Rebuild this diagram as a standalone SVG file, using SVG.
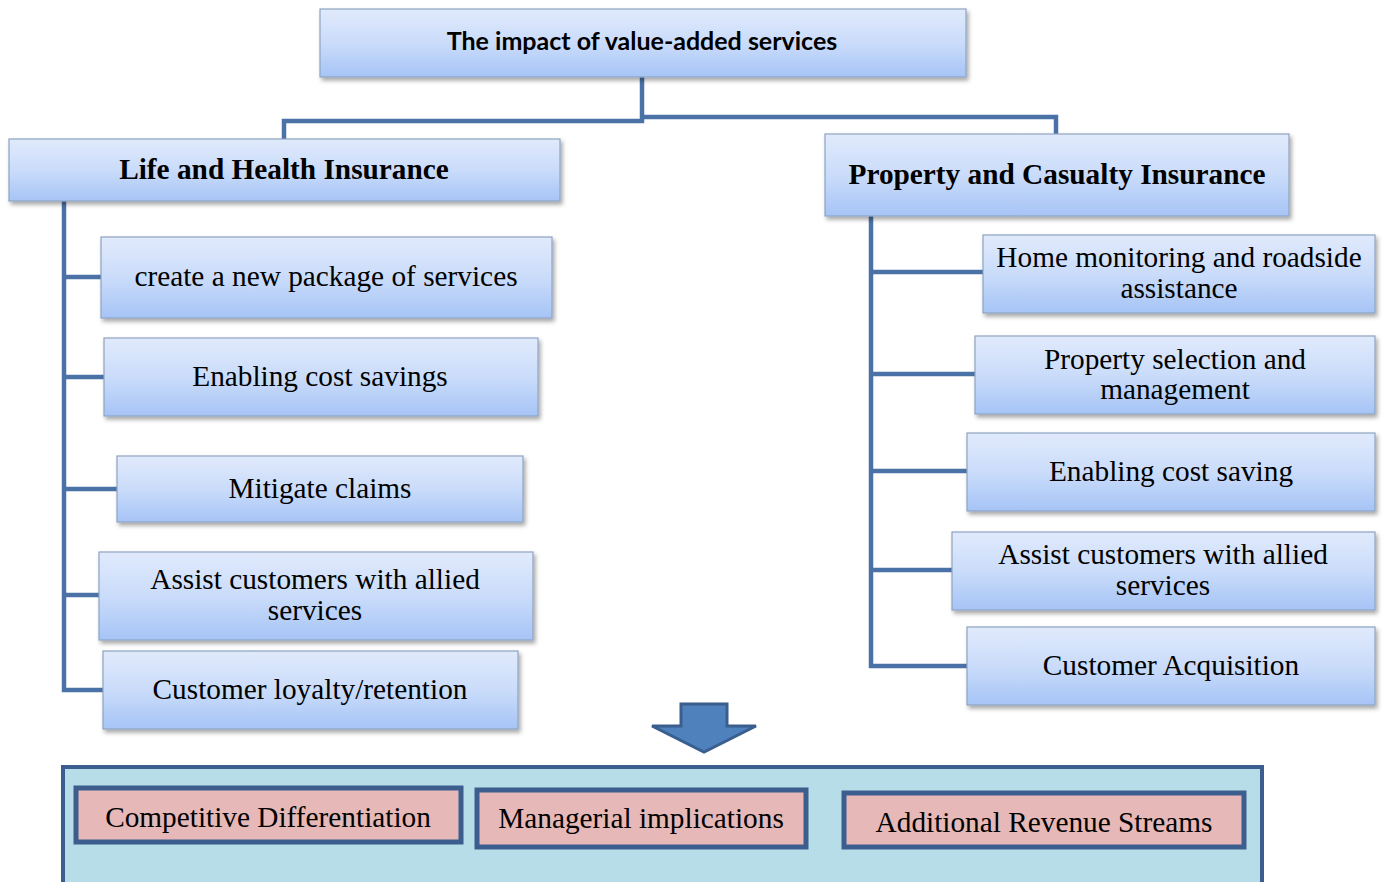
<svg xmlns="http://www.w3.org/2000/svg" width="1384" height="882" viewBox="0 0 1384 882">
  <defs>
    <linearGradient id="boxFill" x1="0" y1="0" x2="0" y2="1">
      <stop offset="0" stop-color="#e1eafc"/>
      <stop offset="0.5" stop-color="#cadcfa"/>
      <stop offset="1" stop-color="#a6c4f6"/>
    </linearGradient>
    <filter id="shadow" x="-5%" y="-10%" width="110%" height="130%">
      <feDropShadow dx="2" dy="3" stdDeviation="2" flood-color="#000" flood-opacity="0.35"/>
    </filter>
  </defs>
  <style>
    .box { fill: url(#boxFill); stroke: #8ea3c2; stroke-width: 1.2; filter: url(#shadow); }
    .link { fill: none; stroke: #4a72a6; stroke-width: 4.5; stroke-linejoin: miter; }
    .title { font-family: Lato, "Open Sans", sans-serif; font-weight: bold; font-size: 25px; fill: #000; text-anchor: middle; }
    .head { font-family: "Liberation Serif", "Times New Roman", serif; font-weight: bold; font-size: 29.3px; fill: #000; text-anchor: middle; }
    .item { font-family: "Liberation Serif", "Times New Roman", serif; font-size: 29.3px; fill: #000; text-anchor: middle; }
    .outcome { fill: #e6b8b7; stroke: #3b5e8e; stroke-width: 5; }
  </style>
  <rect width="1384" height="882" fill="#ffffff"/>

  <!-- connectors -->
  <g id="connectors">
    <polyline class="link" points="642,77 642,121 284,121 284,139"/>
    <polyline class="link" points="642,117 1056,117 1056,134"/>
    <polyline class="link" points="64,201 64,690 103,690"/>
    <line class="link" x1="64" y1="277" x2="101" y2="277"/>
    <line class="link" x1="64" y1="377" x2="104" y2="377"/>
    <line class="link" x1="64" y1="489" x2="117" y2="489"/>
    <line class="link" x1="64" y1="595" x2="99" y2="595"/>
    <polyline class="link" points="871,216 871,666 967,666"/>
    <line class="link" x1="871" y1="272" x2="983" y2="272"/>
    <line class="link" x1="871" y1="374" x2="975" y2="374"/>
    <line class="link" x1="871" y1="471" x2="967" y2="471"/>
    <line class="link" x1="871" y1="570" x2="952" y2="570"/>
  </g>

  <!-- root -->
  <g id="root">
    <rect class="box" x="320" y="9" width="646" height="68"/>
    <text class="title" x="642" y="50">The impact of value-added services</text>
  </g>

  <!-- branch heads -->
  <g id="life-health">
    <rect class="box" x="9" y="139" width="551" height="62"/>
    <text class="head" x="284" y="179">Life and Health Insurance</text>
  </g>
  <g id="property-casualty">
    <rect class="box" x="825" y="134" width="464" height="82"/>
    <text class="head" x="1057" y="184">Property and Casualty Insurance</text>
  </g>

  <!-- life and health items -->
  <g id="lh-package">
    <rect class="box" x="101" y="237" width="451" height="81"/>
    <text class="item" x="326" y="286">create a new package of services</text>
  </g>
  <g id="lh-cost">
    <rect class="box" x="104" y="338" width="434" height="78"/>
    <text class="item" x="320" y="386">Enabling cost savings</text>
  </g>
  <g id="lh-claims">
    <rect class="box" x="117" y="456" width="406" height="66"/>
    <text class="item" x="320" y="498">Mitigate claims</text>
  </g>
  <g id="lh-allied">
    <rect class="box" x="99" y="552" width="434" height="88"/>
    <text class="item" x="315" y="589">Assist customers with allied</text>
    <text class="item" x="315" y="620">services</text>
  </g>
  <g id="lh-loyalty">
    <rect class="box" x="103" y="651" width="415" height="78"/>
    <text class="item" x="310" y="699">Customer loyalty/retention</text>
  </g>

  <!-- property and casualty items -->
  <g id="pc-home">
    <rect class="box" x="983" y="235" width="392" height="78"/>
    <text class="item" x="1179" y="267">Home monitoring and roadside</text>
    <text class="item" x="1179" y="298">assistance</text>
  </g>
  <g id="pc-property">
    <rect class="box" x="975" y="336" width="400" height="78"/>
    <text class="item" x="1175" y="369">Property selection and</text>
    <text class="item" x="1175" y="399">management</text>
  </g>
  <g id="pc-cost">
    <rect class="box" x="967" y="433" width="408" height="78"/>
    <text class="item" x="1171" y="481">Enabling cost saving</text>
  </g>
  <g id="pc-allied">
    <rect class="box" x="952" y="532" width="423" height="78"/>
    <text class="item" x="1163" y="564">Assist customers with allied</text>
    <text class="item" x="1163" y="595">services</text>
  </g>
  <g id="pc-acquisition">
    <rect class="box" x="967" y="627" width="408" height="78"/>
    <text class="item" x="1171" y="675">Customer Acquisition</text>
  </g>

  <!-- down arrow -->
  <g id="arrow">
    <polygon points="681,704 727,704 727,726 756,726 704,752 652,726 681,726" fill="#4f81bd" stroke="#3a5f8e" stroke-width="3" stroke-linejoin="miter"/>
  </g>

  <!-- outcomes panel -->
  <g id="outcomes">
    <rect x="63" y="767" width="1199" height="124" fill="#b7dde8" stroke="#3b5e8e" stroke-width="4"/>
    <g id="competitive">
      <rect class="outcome" x="76" y="788" width="385" height="54"/>
      <text class="item" x="268" y="827">Competitive Differentiation</text>
    </g>
    <g id="managerial">
      <rect class="outcome" x="477" y="790" width="329" height="57"/>
      <text class="item" x="641" y="828">Managerial implications</text>
    </g>
    <g id="revenue">
      <rect class="outcome" x="844" y="793" width="400" height="54"/>
      <text class="item" x="1044" y="832">Additional Revenue Streams</text>
    </g>
  </g>
</svg>
